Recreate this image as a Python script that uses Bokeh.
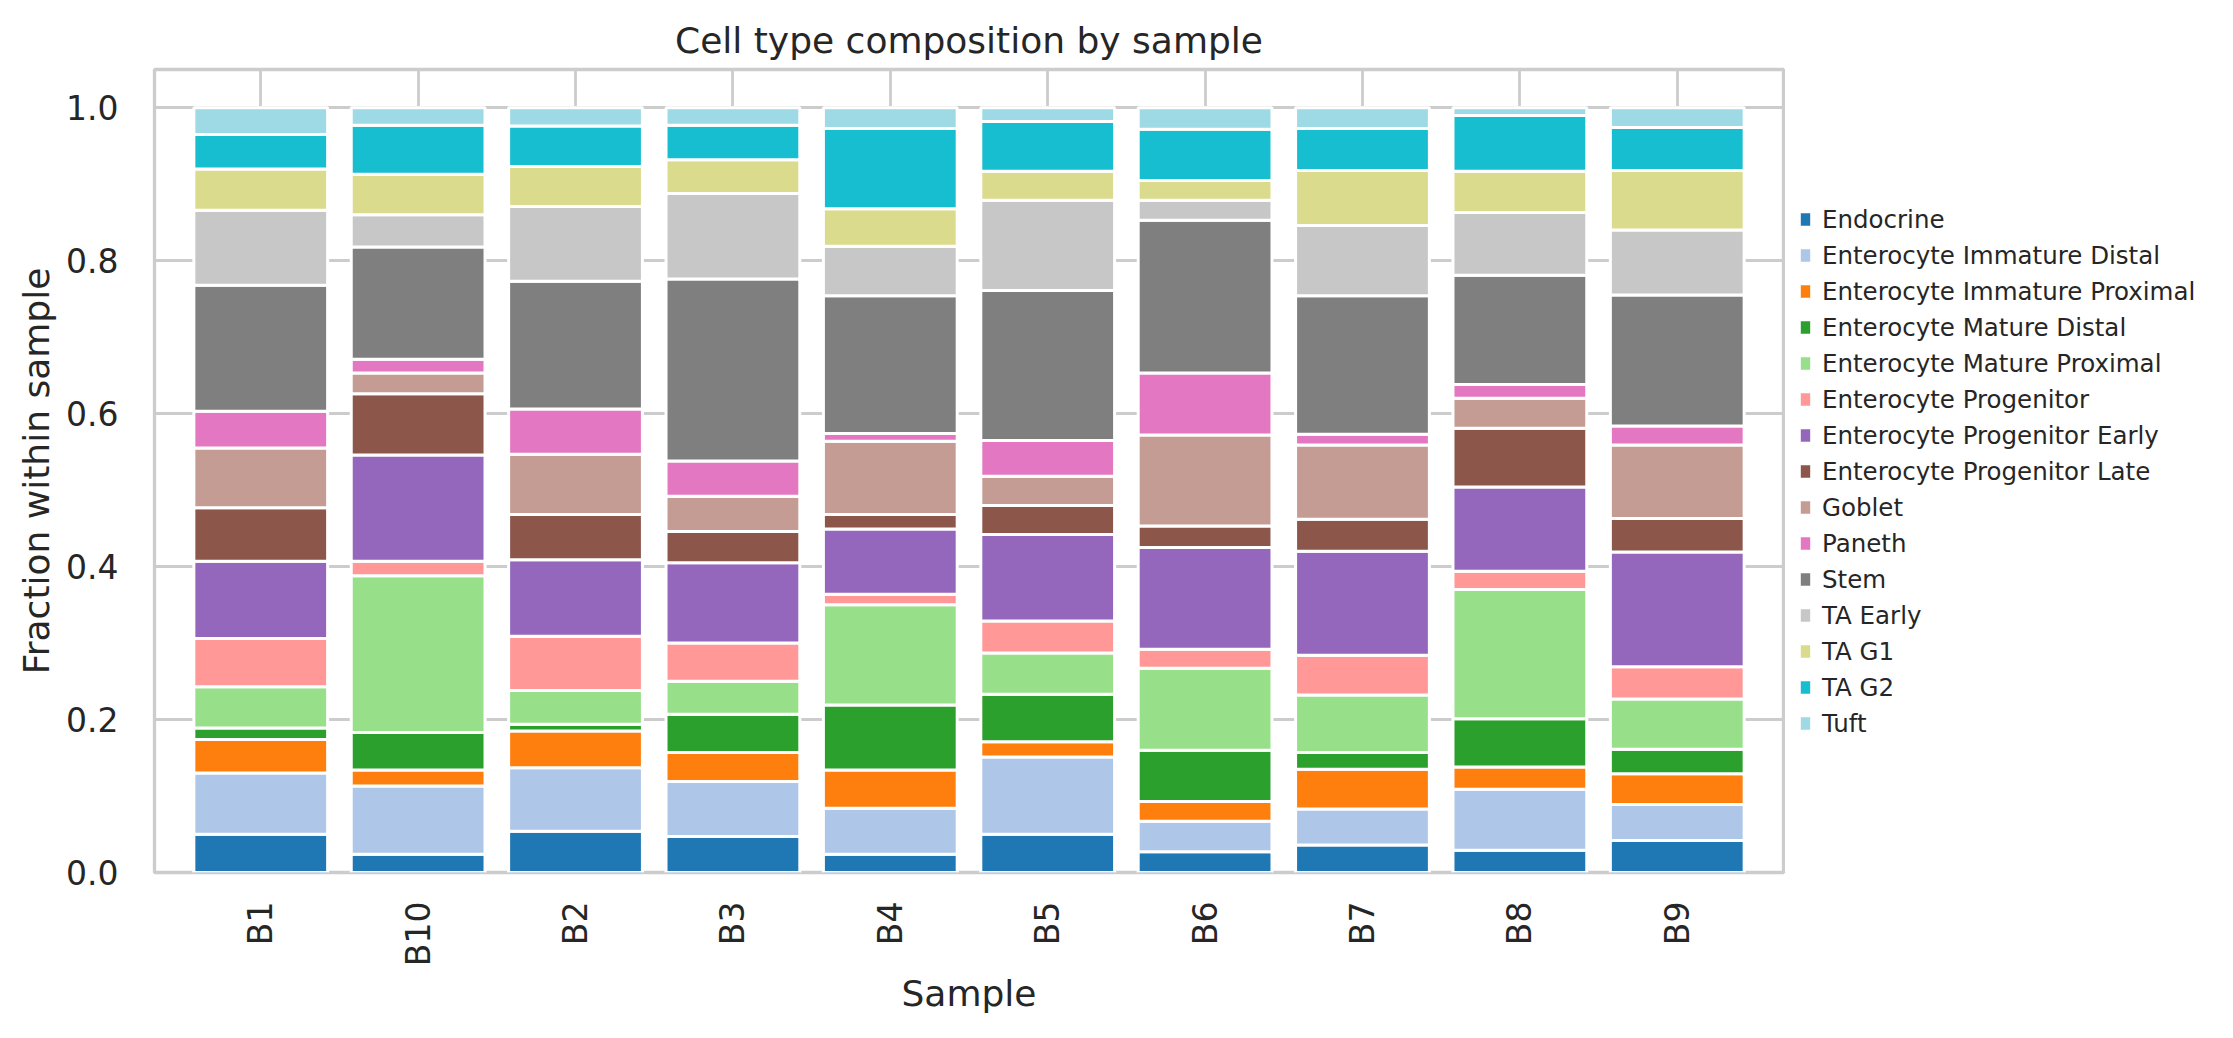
import math
from bokeh.plotting import figure
from bokeh.layouts import row
from bokeh.models import (ColumnDataSource, Legend, LegendItem, FactorRange, Range1d,
                          FixedTicker, PrintfTickFormatter)
from bokeh.embed import file_html
from bokeh.resources import INLINE

samples = ["B1", "B10", "B2", "B3", "B4", "B5", "B6", "B7", "B8", "B9"]

cell_types = [
    "Endocrine", "Enterocyte Immature Distal", "Enterocyte Immature Proximal",
    "Enterocyte Mature Distal", "Enterocyte Mature Proximal", "Enterocyte Progenitor",
    "Enterocyte Progenitor Early", "Enterocyte Progenitor Late", "Goblet", "Paneth",
    "Stem", "TA Early", "TA G1", "TA G2", "Tuft",
]

endocrine = [0.050, 0.024, 0.054, 0.047, 0.024, 0.050, 0.027, 0.036, 0.029, 0.042]
ent_imm_distal = [0.080, 0.089, 0.083, 0.072, 0.060, 0.101, 0.040, 0.047, 0.080, 0.047]
ent_imm_proximal = [0.044, 0.021, 0.048, 0.038, 0.050, 0.020, 0.026, 0.052, 0.029, 0.040]
ent_mat_distal = [0.015, 0.049, 0.009, 0.050, 0.085, 0.062, 0.067, 0.022, 0.063, 0.032]
ent_mat_proximal = [0.054, 0.205, 0.044, 0.043, 0.131, 0.054, 0.107, 0.075, 0.169, 0.066]
ent_progenitor = [0.063, 0.019, 0.071, 0.050, 0.014, 0.042, 0.025, 0.052, 0.024, 0.042]
ent_prog_early = [0.101, 0.139, 0.100, 0.105, 0.085, 0.113, 0.133, 0.136, 0.110, 0.150]
ent_prog_late = [0.070, 0.080, 0.059, 0.041, 0.019, 0.038, 0.028, 0.042, 0.077, 0.044]
goblet = [0.078, 0.027, 0.079, 0.046, 0.096, 0.038, 0.119, 0.097, 0.039, 0.096]
paneth = [0.048, 0.018, 0.059, 0.046, 0.010, 0.047, 0.081, 0.014, 0.018, 0.025]
stem = [0.165, 0.147, 0.167, 0.238, 0.180, 0.196, 0.200, 0.181, 0.143, 0.171]
ta_early = [0.098, 0.042, 0.098, 0.112, 0.065, 0.118, 0.026, 0.092, 0.082, 0.085]
ta_g1 = [0.054, 0.053, 0.052, 0.044, 0.049, 0.038, 0.026, 0.072, 0.054, 0.078]
ta_g2 = [0.045, 0.064, 0.053, 0.045, 0.105, 0.065, 0.067, 0.055, 0.073, 0.056]
tuft = [0.035, 0.023, 0.024, 0.023, 0.027, 0.018, 0.028, 0.027, 0.010, 0.026]

series = [endocrine, ent_imm_distal, ent_imm_proximal, ent_mat_distal, ent_mat_proximal,
          ent_progenitor, ent_prog_early, ent_prog_late, goblet, paneth, stem,
          ta_early, ta_g1, ta_g2, tuft]

colors = ["#1f77b4", "#aec7e8", "#ff7f0e", "#2ca02c", "#98df8a", "#ff9896", "#9467bd",
          "#8c564b", "#c49c94", "#e377c2", "#7f7f7f", "#c7c7c7", "#dbdb8d", "#17becf",
          "#9edae5"]

y_ticks = [0.0, 0.2, 0.4, 0.6, 0.8, 1.0]

data = {"sample": samples}
for name, vals in zip(cell_types, series):
    data[name] = vals
source = ColumnDataSource(data)

FONT = "DejaVu Sans"
TXT = "#262626"
GRID = "#cccccc"

# ---- main chart ----
p = figure(width=1785, height=1038, output_backend="svg", toolbar_location=None,
           x_range=FactorRange(*samples, range_padding=0.175, range_padding_units="absolute"),
           y_range=Range1d(0, 1.05),
           min_border_left=154, min_border_right=2, min_border_top=69, min_border_bottom=166,
           title="Cell type composition by sample")

p.background_fill_color = "white"
p.border_fill_color = "white"
p.outline_line_color = GRID
p.outline_line_width = 3.3

p.title.text_font = FONT
p.title.text_font_size = "36px"
p.title.text_font_style = "normal"
p.title.text_color = TXT
p.title.align = "center"
p.title.standoff = 17

p.vbar_stack(cell_types, x="sample", width=0.85, source=source,
             fill_color=colors, line_color="white", line_width=3)

for ax in (p.xaxis[0], p.yaxis[0]):
    ax.axis_line_color = None
    ax.major_tick_line_color = None
    ax.minor_tick_line_color = None
    ax.major_label_text_font = FONT
    ax.major_label_text_font_size = "33px"
    ax.major_label_text_color = TXT
    ax.axis_label_text_font = FONT
    ax.axis_label_text_font_size = "36px"
    ax.axis_label_text_font_style = "normal"
    ax.axis_label_text_color = TXT

p.xaxis.axis_label = "Sample"
p.xaxis.major_label_orientation = math.pi / 2
p.xaxis.major_label_standoff = 23
p.xaxis.axis_label_standoff = 4

p.yaxis.axis_label = "Fraction within sample"
p.yaxis.ticker = FixedTicker(ticks=y_ticks)
p.yaxis.formatter = PrintfTickFormatter(format="%.1f")
p.yaxis.major_label_standoff = 30
p.yaxis.axis_label_standoff = 6

p.xgrid.grid_line_color = GRID
p.xgrid.grid_line_width = 2.8
p.ygrid.grid_line_color = GRID
p.ygrid.grid_line_width = 2.8

# ---- legend panel (frame is aligned with the chart frame by the row layout) ----
lg = figure(width=448, height=1038, output_backend="svg", toolbar_location=None,
            x_axis_type=None, y_axis_type=None, min_border=0,
            x_range=Range1d(0, 1), y_range=Range1d(0, 1))
lg.outline_line_color = None
lg.background_fill_color = "white"
lg.border_fill_color = "white"

items = []
for name, c in zip(cell_types, colors):
    # swatch-only renderer: its single bar lies outside the visible range
    r = lg.vbar(x=[-5], top=[-5], bottom=[-6], width=0.1, fill_color=c,
                line_color="white", line_width=13)
    items.append(LegendItem(label=name, renderers=[r]))

legend = Legend(items=items, location=(6, 133), orientation="vertical",
                label_text_font=FONT, label_text_font_size="24.5px", label_text_color=TXT,
                glyph_width=28, glyph_height=32, label_standoff=3, label_height=32,
                spacing=4, padding=10, margin=0, border_line_color=None,
                background_fill_alpha=0)
lg.add_layout(legend)

layout = row(p, lg, spacing=0)

open("out.html", "w").write(file_html(layout, INLINE))
